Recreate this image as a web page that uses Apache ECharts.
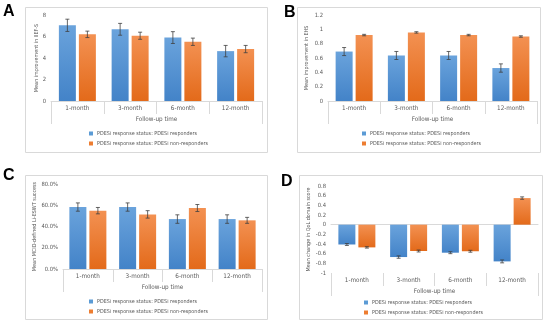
<!DOCTYPE html>
<html><head><meta charset="utf-8">
<script src="https://cdn.jsdelivr.net/npm/echarts@6/dist/echarts.min.js"></script>
<style>html,body{margin:0;padding:0;background:#fff}#c{width:550px;height:327px}</style>
</head><body><div id="c"></div>
<script>
const categories = ['1-month', '3-month', '6-month', '12-month'];
const seriesNames = ['PDESi response status: PDESi responders', 'PDESi response status: PDESi non-responders'];
const xTitle = 'Follow-up time';

// Panel A: Mean improvement in IIEF-S
const aResp = [7.04, 6.67, 5.90, 4.64];
const aRespErr = [0.57, 0.55, 0.55, 0.53];
const aNon = [6.20, 6.07, 5.51, 4.83];
const aNonErr = [0.30, 0.33, 0.34, 0.34];
// Panel B: Mean improvement in EHS
const bResp = [0.69, 0.635, 0.635, 0.46];
const bRespErr = [0.056, 0.056, 0.056, 0.058];
const bNon = [0.92, 0.957, 0.92, 0.90];
const bNonErr = [0.01, 0.01, 0.01, 0.01];
// Panel C: Mean MCID-defined Li-ESWT success (%)
const cResp = [58.3, 58.3, 47.0, 47.0];
const cRespErr = [3.9, 3.9, 4.0, 4.0];
const cNon = [54.9, 51.4, 57.4, 45.8];
const cNonErr = [3.0, 3.5, 3.3, 2.8];
// Panel D: Mean change in QoL domain score
const dResp = [-0.41, -0.67, -0.58, -0.76];
const dRespErr = [0.02, 0.025, 0.02, 0.03];
const dNon = [-0.47, -0.545, -0.55, 0.55];
const dNonErr = [0.015, 0.02, 0.02, 0.025];

const FONT = '"Liberation Sans Narrow", "DejaVu Sans Condensed", "Liberation Sans", sans-serif';
const TXT = '#595959';
const LINE = '#d9d9d9';
const FS = 6.3;
const LFS = 5.4;
const NFS = 5.4;
const BW = 17, GAP = 3;

const blue = new echarts.graphic.LinearGradient(0, 0, 0, 1, [{offset: 0, color: '#6aa3dc'}, {offset: 1, color: '#4383c8'}]);
const orange = new echarts.graphic.LinearGradient(0, 0, 0, 1, [{offset: 0, color: '#f39152'}, {offset: 1, color: '#e36a1a'}]);

const panels = [
  {letter: 'A', lx: 3, ly: 4, frame: [25, 7, 242, 145], grid: {left: 51, right: 288, top: 15, bottom: 226},
   y: {min: 0, max: 8, interval: 2, fmt: v => String(v)}, yName: 'Mean improvement in IIEF-S', nameGap: 12,
   resp: aResp, respErr: aRespErr, non: aNon, nonErr: aNonErr, legend: {left: 89, top: 131}, zeroAxis: false},
  {letter: 'B', lx: 284, ly: 5, frame: [297, 7, 243, 145], grid: {left: 328, right: 13, top: 15, bottom: 226},
   y: {min: 0, max: 1.2, interval: 0.2, fmt: v => String(Math.round(v * 10) / 10)}, yName: 'Mean improvement in EHS', nameGap: 19,
   resp: bResp, respErr: bRespErr, non: bNon, nonErr: bNonErr, legend: {left: 362, top: 131}, zeroAxis: false},
  {letter: 'C', lx: 3, ly: 168, frame: [25, 175, 242, 144], grid: {left: 63, right: 288, top: 184, bottom: 58},
   y: {min: 0, max: 80, interval: 20, fmt: v => v.toFixed(1) + '%'}, yName: 'Mean MCID-defined Li-ESWT success', nameGap: 25,
   resp: cResp, respErr: cRespErr, non: cNon, nonErr: cNonErr, legend: {left: 89, top: 299}, zeroAxis: false},
  {letter: 'D', lx: 281, ly: 174, frame: [299, 175, 243, 144], grid: {left: 331, right: 12, top: 186, bottom: 54},
   y: {min: -1, max: 0.8, interval: 0.2, fmt: v => String(Math.round(v * 10) / 10)}, yName: 'Mean change in QoL domain score', nameGap: 20,
   resp: dResp, respErr: dRespErr, non: dNon, nonErr: dNonErr, legend: {left: 364, top: 300}, zeroAxis: true}
];

function errData(vals, errs) {
  return vals.map((v, i) => [i, v - errs[i], v + errs[i]]);
}
function errRender(side) {
  return function (params, api) {
    const hi = api.coord([api.value(0), api.value(2)]);
    const lo = api.coord([api.value(0), api.value(1)]);
    const x = hi[0] + side * (BW + GAP) / 2;
    const st = {stroke: '#404040', lineWidth: 0.8};
    return {type: 'group', children: [
      {type: 'line', shape: {x1: x, y1: hi[1], x2: x, y2: lo[1]}, style: st},
      {type: 'line', shape: {x1: x - 2, y1: hi[1], x2: x + 2, y2: hi[1]}, style: st},
      {type: 'line', shape: {x1: x - 2, y1: lo[1], x2: x + 2, y2: lo[1]}, style: st}
    ]};
  };
}

const option = {
  animation: false,
  textStyle: {fontFamily: FONT},
  title: [], grid: [], xAxis: [], yAxis: [], series: [], legend: [], graphic: []
};

panels.forEach((p, k) => {
  option.title.push({text: p.letter, left: p.lx, top: p.ly, padding: 0,
    textStyle: {fontSize: 16, fontWeight: 'bold', color: '#000', fontFamily: 'Liberation Sans'}});
  option.graphic.push({type: 'rect', shape: {x: p.frame[0] + 0.5, y: p.frame[1] + 0.5, width: p.frame[2], height: p.frame[3]},
    style: {fill: 'none', stroke: LINE, lineWidth: 1}, silent: true});
  option.grid.push(Object.assign({containLabel: false}, p.grid));
  const xi = option.xAxis.length;
  option.xAxis.push({
    type: 'category', gridIndex: k, data: categories, position: 'bottom',
    axisLine: {show: !p.zeroAxis, onZero: false, lineStyle: {color: LINE}},
    axisTick: {show: true, length: 13, lineStyle: {color: LINE}},
    axisLabel: {margin: 4, fontSize: FS, color: TXT, fontFamily: FONT}
  });
  option.xAxis.push({
    type: 'category', gridIndex: k, data: [xTitle], position: 'bottom',
    axisLine: {show: false, onZero: false},
    axisTick: {show: true, length: 23, lineStyle: {color: LINE}},
    axisLabel: {margin: 15, fontSize: FS, color: TXT, fontFamily: FONT}
  });
  if (p.zeroAxis) {
    option.xAxis.push({
      type: 'category', gridIndex: k, data: categories,
      axisLine: {show: true, onZero: true, lineStyle: {color: LINE}},
      axisTick: {show: false}, axisLabel: {show: false}
    });
  }
  option.yAxis.push({
    type: 'value', gridIndex: k, min: p.y.min, max: p.y.max, interval: p.y.interval,
    name: p.yName, nameLocation: 'middle', nameGap: p.nameGap, nameRotate: 90,
    nameTextStyle: {fontSize: NFS, color: TXT, fontFamily: FONT},
    axisLine: {show: false}, axisTick: {show: false}, splitLine: {show: false},
    axisLabel: {fontSize: 5.8, color: TXT, margin: 5, formatter: p.y.fmt, fontFamily: FONT}
  });
  option.series.push({
    type: 'bar', name: seriesNames[0], xAxisIndex: xi, yAxisIndex: k, data: p.resp,
    barWidth: BW, barGap: (GAP / BW * 100) + '%', itemStyle: {color: blue}
  });
  option.series.push({
    type: 'bar', name: seriesNames[1], xAxisIndex: xi, yAxisIndex: k, data: p.non,
    barWidth: BW, barGap: (GAP / BW * 100) + '%', itemStyle: {color: orange}
  });
  option.series.push({
    type: 'custom', xAxisIndex: xi, yAxisIndex: k, data: errData(p.resp, p.respErr),
    encode: {x: 0, y: [1, 2]}, renderItem: errRender(-1), z: 5
  });
  option.series.push({
    type: 'custom', xAxisIndex: xi, yAxisIndex: k, data: errData(p.non, p.nonErr),
    encode: {x: 0, y: [1, 2]}, renderItem: errRender(1), z: 5
  });
  option.legend.push({
    data: [{name: seriesNames[0], itemStyle: {color: '#5b9bd5'}}, {name: seriesNames[1], itemStyle: {color: '#ed7d31'}}],
    orient: 'vertical', left: p.legend.left, top: p.legend.top, padding: 0,
    icon: 'rect', itemWidth: 4, itemHeight: 4, itemGap: 5,
    textStyle: {fontSize: LFS, color: TXT, fontFamily: FONT, padding: [0, 0, 0, -1]}
  });
});

const chart = echarts.init(document.getElementById('c'), null, {renderer: 'canvas'});
chart.setOption(option);
</script>
</body></html>
